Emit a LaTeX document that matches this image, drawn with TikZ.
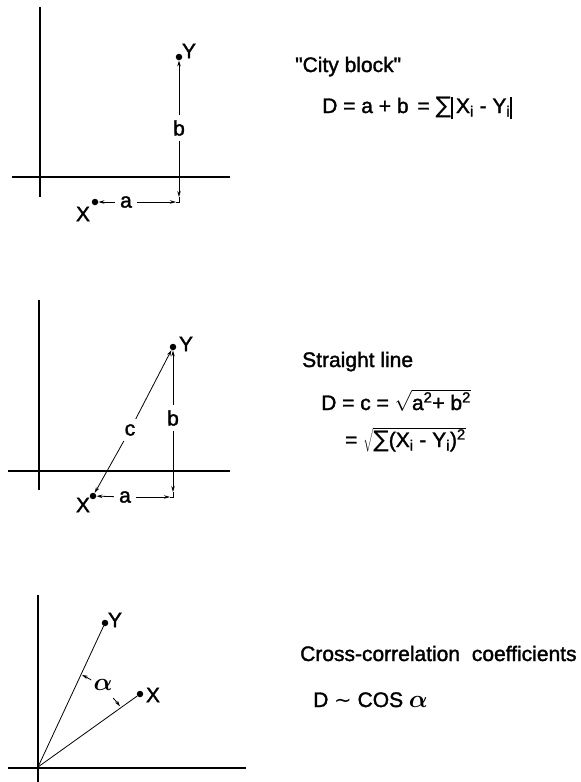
\documentclass[tikz,border=0pt]{standalone}
\usepackage{fontspec}
\setmainfont{Liberation Sans}[Ligatures=TeXOff, FakeBold=1.6]
\newfontfamily\dejavu{DejaVu Sans}
\usetikzlibrary{arrows.meta}
\tikzset{
  axis/.style={line width=1.5pt},
  dimline/.style={line width=0.8pt},
  tipped/.style={-{Stealth[length=6pt,width=3.5pt]}},
  lbl/.style={font=\fontsize{21}{23}\selectfont, inner sep=1pt},
  dimlbl/.style={font=\fontsize{21}{23}\selectfont, inner sep=5pt},
  dot/.style={circle, fill, inner sep=0pt, minimum size=6.5pt},
  txt/.style={font=\fontsize{21}{25}\selectfont, inner sep=0pt, anchor=base west},
}
\newcommand{\bigsum}{{\dejavu\fontsize{23}{23}\selectfont ∑}}
\newcommand{\absbar}{\rule[-6pt]{1.5pt}{22pt}}
\begin{document}
\begin{tikzpicture}[x=1pt,y=-1pt]
\useasboundingbox (0,0) rectangle (581,782);
% ---------- panel 1: city block
\draw[axis] (40,7) -- (40,197);
\draw[axis] (12,177) -- (230,177);
\node[dot] (Y1) at (179,57) {};
\node[lbl] (Y1l) at (189,51) {Y};
\node[dot] (X1) at (95,202) {};
\node[lbl] (X1l) at (83,214) {X};
\node[dimlbl] (b1) at (179,128) {b};
\node[dimlbl] (a1) at (126,202) {a};
\coordinate (c1h) at (176,202);
\coordinate (c1v) at (179,197);
\draw[dimline, tipped] (b1) -- (Y1);
\draw[dimline, tipped] (b1) -- (c1v);
\draw[dimline, tipped] (a1) -- (X1);
\draw[dimline, tipped] (a1) -- (c1h);
\draw[dimline] (c1h) -| (c1v);
% ---------- panel 2: straight line
\draw[axis] (39,300) -- (39,490);
\draw[axis] (8,471) -- (230,471);
\node[dot] (Y2) at (173,347) {};
\node[lbl] (Y2l) at (186,344) {Y};
\node[dot] (X2) at (93,496) {};
\node[lbl] (X2l) at (83,505) {X};
\node[dimlbl] (b2) at (173,418) {b};
\node[dimlbl] (a2) at (125,497) {a};
\node[dimlbl] (c2) at (130,430) {c};
\coordinate (c2h) at (170,497);
\coordinate (c2v) at (173,492);
\draw[dimline, tipped] (b2) -- (Y2);
\draw[dimline, tipped] (b2) -- (c2v);
\draw[dimline, tipped] (a2) -- (X2);
\draw[dimline, tipped] (a2) -- (c2h);
\draw[dimline] (c2h) -| (c2v);
\draw[dimline, tipped] (c2) -- (X2);
\draw[dimline, tipped] (c2) -- (Y2);
% ---------- panel 3: angle
\draw[axis] (38,595) -- (38,782);
\draw[axis] (8,768) -- (246,768);
\coordinate (O3) at (38,767);
\node[dot] (Y3) at (105,623) {};
\node[lbl] (Y3l) at (115,620) {Y};
\node[dot] (X3) at (140,694) {};
\node[lbl] (X3l) at (153,695) {X};
\draw[dimline] (O3) -- (Y3);
\draw[dimline] (O3) -- (X3);
\node[lbl, font=\fontsize{28}{28}\selectfont\boldmath] (al) at (103,685) {$\alpha$};
\draw[dimline, tipped] ([shift={(-58.5:102)}]O3) arc[start angle=-58.5, end angle=-64.5, radius=102];
\draw[dimline, tipped] ([shift={(-42.5:102)}]O3) arc[start angle=-42.5, end angle=-36.5, radius=102];
% ---------- texts
\node[txt] (t1) at (295,72) {"City block"};
\node[txt] (f1) at (322,113) {D = a + b\hspace{3pt} = \bigsum\absbar\,X\textsubscript{i} - Y\textsubscript{i}\absbar};
\node[txt] (t2) at (302,367) {Straight line};
\node[txt] (f2) at (321,410) {D = c = $\sqrt{\hbox{a\textsuperscript{2}+ b\textsuperscript{2}}}$};
\node[txt] (f3) at (345,447) {= $\sqrt{\hbox{\bigsum(X\textsubscript{i} - Y\textsubscript{i})\textsuperscript{2}}}$};
\node[txt] (t3) at (300,661) {Cross-correlation\hspace{6pt} coefficients};
\node[txt] (f4) at (313,707) {D {\dejavu ∼} COS {\fontsize{24}{24}\selectfont\boldmath$\alpha$}};
\end{tikzpicture}
\end{document}
